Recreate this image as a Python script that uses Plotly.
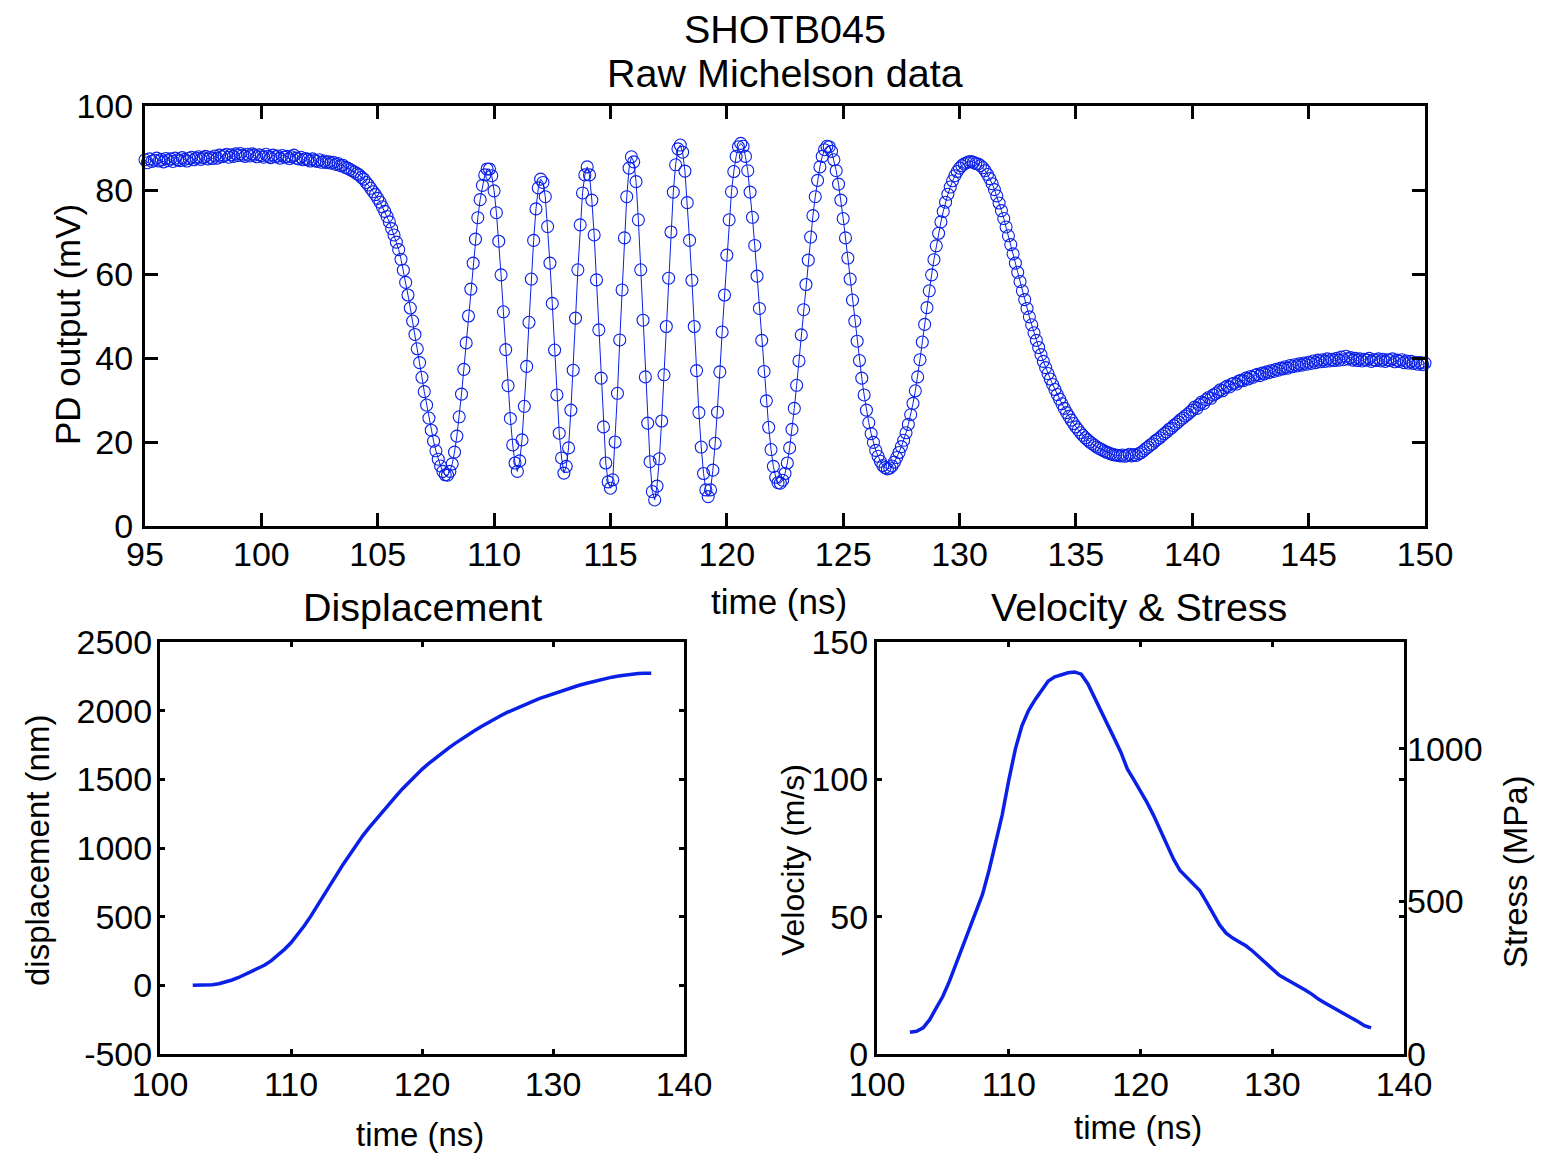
import plotly.graph_objects as go

# ---------------- data ----------------
# Top panel: raw Michelson photodiode output, sampled every 0.1 ns from 95 ns
T_START = 95.0
T_STEP = 0.1
pd_mv = [
    87.2, 86.5, 87.4, 86.8, 87.1, 87.6, 86.9, 87.3, 86.7, 87.5,   # 95
    87.0, 87.4, 86.8, 87.6, 87.2, 87.0, 87.7, 87.3, 86.9, 87.5,   # 96
    87.8, 87.2, 87.6, 87.9, 87.3, 87.7, 88.0, 87.4, 87.8, 87.5,   # 97
    88.1, 87.6, 88.3, 87.9, 88.2, 88.5, 87.8, 88.4, 88.0, 88.6,   # 98
    88.2, 88.7, 88.3, 88.0, 88.5, 88.1, 88.6, 88.3, 87.9, 88.4,   # 99
    88.2, 87.8, 88.5, 88.0, 87.7, 88.3, 87.9, 88.1, 87.6, 88.2,   # 100
    87.8, 88.0, 87.5, 87.9, 88.3, 87.6, 87.4, 87.8, 87.2, 87.5,   # 101
    87.3, 86.9, 87.4, 87.0, 86.8, 87.2, 86.6, 86.9, 86.5, 86.7,   # 102
    86.4, 86.6, 86.1, 86.3, 85.8, 85.9, 85.4, 85.2, 84.9, 84.6,   # 103
    84.3, 83.9, 83.6, 83.0, 82.6, 81.8, 81.2, 80.4, 79.6, 78.9,   # 104
    78.0, 77.1, 76.0, 74.9, 73.7, 72.4, 70.8, 69.3, 67.6, 65.8,   # 105
    63.5, 60.9, 58.0, 55.0, 51.9, 48.8, 45.6, 42.2, 38.9, 35.4,   # 106
    32.0, 28.8, 25.7, 22.8, 20.2, 17.9, 15.9, 14.3, 13.0, 12.2,   # 107
    12.1, 13.0, 14.8, 17.6, 21.4, 26.0, 31.4, 37.3, 43.6, 50.0,   # 108
    56.4, 62.6, 68.3, 73.4, 77.7, 81.1, 83.6, 85.0, 85.0, 83.4,   # 109
    79.8, 74.6, 67.8, 59.8, 51.0, 42.0, 33.4, 25.6, 19.3, 15.0,   # 110
    13.0, 15.5, 20.5, 28.5, 38.0, 48.5, 58.8, 68.0, 75.5, 80.5,   # 111
    82.6, 81.8, 78.4, 71.3, 62.6, 53.0, 41.9, 31.2, 22.1, 16.2,   # 112
    12.6, 14.2, 18.6, 27.6, 37.1, 49.5, 61.0, 71.7, 79.3, 83.6,   # 113
    85.5, 83.6, 77.6, 69.3, 58.6, 46.7, 35.2, 23.6, 15.0, 10.5,   # 114
    9.0, 11.0, 20.0, 31.6, 44.3, 56.2, 68.6, 78.4, 85.2, 87.9,    # 115
    86.7, 82.0, 72.9, 61.0, 49.0, 35.5, 24.5, 15.3, 8.2, 6.2,     # 116
    9.5, 16.0, 25.0, 36.0, 47.5, 59.0, 70.0, 79.5, 86.0, 89.8,    # 117
    90.7, 89.0, 84.5, 77.0, 68.0, 58.5, 47.5, 37.0, 27.0, 18.8,   # 118
    12.5, 8.6, 7.0, 8.6, 13.3, 19.7, 27.1, 36.7, 46.2, 55.0,      # 119
    64.5, 72.9, 79.6, 84.4, 88.0, 90.3, 91.1, 90.4, 88.0, 84.6,   # 120
    79.5, 73.5, 66.8, 59.5, 51.8, 44.2, 36.8, 29.8, 23.5, 18.2,   # 121
    14.2, 11.6, 10.3, 10.2, 10.9, 12.5, 15.0, 18.6, 23.0, 28.0,   # 122
    33.5, 39.3, 45.5, 51.5, 57.5, 63.3, 68.8, 73.9, 78.4, 82.3,   # 123
    85.5, 88.0, 89.6, 90.4, 90.3, 89.2, 87.2, 84.6, 81.4, 77.6,   # 124
    73.2, 68.6, 63.8, 58.8, 53.8, 48.8, 44.0, 39.4, 35.2, 31.2,   # 125
    27.6, 24.6, 22.0, 19.9, 18.0, 16.6, 15.4, 14.4, 13.9, 13.6,   # 126
    13.8, 14.3, 15.2, 16.3, 17.5, 18.9, 20.4, 22.2, 24.2, 26.5,   # 127
    29.2, 32.2, 35.5, 39.6, 43.8, 48.0, 52.0, 56.0, 59.8, 63.4,   # 128
    66.7, 69.7, 72.4, 74.9, 77.1, 79.0, 80.7, 82.2, 83.4, 84.4,   # 129
    85.2, 85.8, 86.2, 86.5, 86.7, 86.8, 86.6, 86.3, 86.2, 85.8,   # 130
    85.3, 84.6, 83.7, 82.7, 81.5, 80.1, 78.6, 76.9, 75.1, 73.2,   # 131
    71.2, 69.1, 67.0, 64.8, 62.6, 60.4, 58.2, 56.0, 53.9, 51.8,   # 132
    49.8, 47.9, 46.0, 44.2, 42.5, 40.8, 39.2, 37.7, 36.3, 35.0,   # 133
    33.7, 32.5, 31.3, 30.2, 29.1, 28.0, 27.0, 26.1, 25.2, 24.4,   # 134
    23.6, 22.9, 22.2, 21.6, 21.0, 20.5, 20.0, 19.6, 19.2, 18.8,   # 135
    18.5, 18.2, 17.9, 17.6, 17.4, 17.2, 17.0, 16.9, 16.8, 16.7,   # 136
    16.9, 16.6, 16.8, 17.1, 16.7, 17.0, 16.8, 17.2, 17.5, 17.9,   # 137
    18.4, 18.8, 19.3, 19.6, 20.2, 20.6, 21.0, 21.5, 22.0, 22.4,   # 138
    23.0, 23.3, 23.9, 24.3, 24.8, 25.3, 25.7, 26.2, 26.6, 27.1,   # 139
    27.6, 28.3, 28.0, 28.9, 29.5, 29.2, 30.1, 30.6, 30.4, 31.2,   # 140
    31.5, 31.9, 32.4, 32.2, 32.9, 33.3, 33.1, 33.8, 34.0, 33.8,   # 141
    34.5, 34.7, 34.6, 35.2, 35.0, 35.6, 35.4, 35.9, 36.1, 35.8,   # 142
    36.4, 36.2, 36.7, 36.5, 37.0, 36.8, 37.3, 37.1, 37.6, 37.4,   # 143
    37.9, 37.6, 38.2, 37.9, 38.4, 38.1, 38.6, 38.3, 38.8, 38.5,   # 144
    39.0, 38.7, 39.3, 38.9, 39.5, 39.1, 39.6, 39.2, 39.8, 39.3,   # 145
    39.7, 39.4, 39.9, 39.5, 40.2, 39.6, 40.4, 39.8, 40.1, 39.5,   # 146
    39.9, 39.4, 39.8, 39.3, 39.7, 39.5, 39.9, 39.2, 39.6, 39.4,   # 147
    39.8, 39.3, 39.7, 39.2, 39.6, 39.4, 39.8, 39.1, 39.5, 39.2,   # 148
    39.6, 38.9, 39.3, 38.8, 39.2, 38.7, 39.0, 38.5, 38.9, 38.4,   # 149
    38.8,                                                         # 150
]

# Bottom panels: derived displacement and velocity, every 0.5 ns from 102.5 ns
D_START = 102.5
D_STEP = 0.5
disp_nm = [
    0, 0, 2, 5, 12, 24, 39, 57, 79, 102,
    124, 148, 180, 220, 262, 310, 368, 432, 502, 576,
    652, 730, 808, 884, 956, 1026, 1092, 1152, 1210, 1265,
    1320, 1376, 1430, 1480, 1528, 1573, 1614, 1653, 1690, 1726,
    1760, 1793, 1824, 1854, 1883, 1911, 1938, 1963, 1987, 2009,
    2030, 2051, 2070, 2089, 2106, 2123, 2140, 2156, 2171, 2185,
    2198, 2211, 2223, 2234, 2244, 2252, 2259, 2265, 2270, 2273,
    2272,
]
vel_ms = [
    7.9, 8.3, 9.5, 12.5, 16.8, 21.0, 26.5, 32.8, 39.0, 45.0,
    51.0, 58.0, 66.8, 76.5, 87.0, 99.6, 111.0, 119.5, 125.0, 129.0,
    132.5, 135.8, 137.3, 138.2, 138.8, 139.1, 138.3, 134.8, 130.0, 125.0,
    120.2, 115.0, 110.0, 103.8, 99.8, 95.8, 91.5, 86.8, 81.6, 76.2,
    71.0, 66.8, 64.3, 62.2, 59.5, 55.5, 51.0, 47.0, 44.0, 42.2,
    40.8, 39.4, 37.5, 35.3, 33.1, 30.8, 28.8, 27.4, 26.1, 24.7,
    23.3, 21.8, 20.0, 18.6, 17.3, 15.9, 14.5, 13.2, 11.8, 10.3,
    9.5,
]

# tick values / labels
top_xticks = [95, 100, 105, 110, 115, 120, 125, 130, 135, 140, 145, 150]
top_yticks = [0, 20, 40, 60, 80, 100]
bot_xticks = [100, 110, 120, 130, 140]
disp_yticks = [-500, 0, 500, 1000, 1500, 2000, 2500]
disp_ytext = ["-500", "0", "500", "1000", "1500", "2000", "2500"]
vel_yticks = [0, 50, 100, 150]
stress_yticks = [0, 500, 1000]

assert len(pd_mv) == 551
assert len(disp_nm) == 71 and len(vel_ms) == 71

# ---------------- figure ----------------
# the page body keeps its default 8 px margin, so the figure is 8 px smaller
# and all page-pixel positions below are shifted by that margin
PAGE_MARGIN = 8
W, H = 1545 - PAGE_MARGIN, 1155 - PAGE_MARGIN
FONT = "Liberation Sans, Arial, Helvetica, sans-serif"
BLUE = "#0a20e6"
TICK_FS = 34
LABEL_FS = 35
BLABEL_FS = 33
TITLE_FS = 39.5


def fx(p):
    return (p - PAGE_MARGIN) / W


def fy(p):
    return 1 - (p - PAGE_MARGIN) / H


fig = go.Figure()
fig.add_trace(go.Scatter(
    x0=T_START, dx=T_STEP, y=pd_mv, mode="lines+markers",
    line=dict(color=BLUE, width=1),
    marker=dict(symbol="circle-open", size=12, color=BLUE, line=dict(width=1.1)),
    cliponaxis=False, xaxis="x", yaxis="y", showlegend=False,
))
fig.add_trace(go.Scatter(
    x0=D_START, dx=D_STEP, y=disp_nm, mode="lines",
    line=dict(color=BLUE, width=3.5),
    xaxis="x2", yaxis="y2", showlegend=False,
))
fig.add_trace(go.Scatter(
    x0=D_START, dx=D_STEP, y=vel_ms, mode="lines",
    line=dict(color=BLUE, width=3.5),
    xaxis="x3", yaxis="y3", showlegend=False,
))
# stress axis (right) shares the velocity line
fig.add_trace(go.Scatter(x=[], y=[], xaxis="x3", yaxis="y4", showlegend=False))

common = dict(
    showline=True, linewidth=3, linecolor="black", mirror="ticks",
    ticks="inside", tickwidth=2.5, tickcolor="black",
    showgrid=False, zeroline=False, automargin=False,
    tickfont=dict(family=FONT, size=TICK_FS, color="black"),
)

fig.update_layout(
    template="none",
    width=W, height=H, autosize=False,
    margin=dict(l=0, r=0, t=0, b=0, pad=0),
    paper_bgcolor="white", plot_bgcolor="white",
    font=dict(family=FONT, color="black"),
    xaxis=dict(domain=[fx(145), fx(1425)], anchor="y", range=[95, 150],
               tickvals=top_xticks, ticklen=13, ticklabelstandoff=-4, **common),
    yaxis=dict(domain=[fy(526), fy(106)], anchor="x", range=[0, 100],
               tickvals=top_yticks, ticklen=13, ticklabelstandoff=2, **common),
    xaxis2=dict(domain=[fx(160), fx(684)], anchor="y2", range=[100, 140],
                tickvals=bot_xticks, ticklen=5, ticklabelstandoff=-2, **common),
    yaxis2=dict(domain=[fy(1054), fy(642)], anchor="x2", range=[-500, 2500],
                tickvals=disp_yticks, ticktext=disp_ytext, ticklen=5,
                ticklabelstandoff=-2, **common),
    xaxis3=dict(domain=[fx(877), fx(1404)], anchor="y3", range=[100, 140],
                tickvals=bot_xticks, ticklen=5, ticklabelstandoff=-2, **common),
    yaxis3=dict(domain=[fy(1054), fy(642)], anchor="x3", range=[0, 150],
                tickvals=vel_yticks, ticklen=5, ticklabelstandoff=-1, **common),
    yaxis4=dict(overlaying="y3", side="right", anchor="x3", range=[0, 1350],
                tickvals=stress_yticks, ticks="inside", ticklen=5, tickwidth=2.5,
                tickcolor="black", showline=False, showgrid=False, zeroline=False,
                automargin=False, ticklabelstandoff=2,
                tickfont=dict(family=FONT, size=TICK_FS, color="black")),
)


def label(text, x, y, size, angle=0):
    fig.add_annotation(text=text, x=fx(x), y=fy(y), xref="paper", yref="paper",
                       xanchor="center", yanchor="middle", showarrow=False,
                       textangle=angle,
                       font=dict(family=FONT, size=size, color="black"))


label("SHOTB045", 785, 29, TITLE_FS)
label("Raw Michelson data", 785, 73, TITLE_FS)
label("time (ns)", 779, 601, LABEL_FS)
label("PD output (mV)", 68, 325, LABEL_FS, -90)
label("Displacement", 422, 607, TITLE_FS)
label("Velocity &amp; Stress", 1139, 607, TITLE_FS)
label("displacement (nm)", 37, 851, BLABEL_FS, -90)
label("time (ns)", 420, 1134, BLABEL_FS)
label("Velocity (m/s)", 793, 860, 32, -90)
label("time (ns)", 1138, 1127, BLABEL_FS)
label("Stress (MPa)", 1515, 872, BLABEL_FS, -90)

fig.write_html("out.html")
